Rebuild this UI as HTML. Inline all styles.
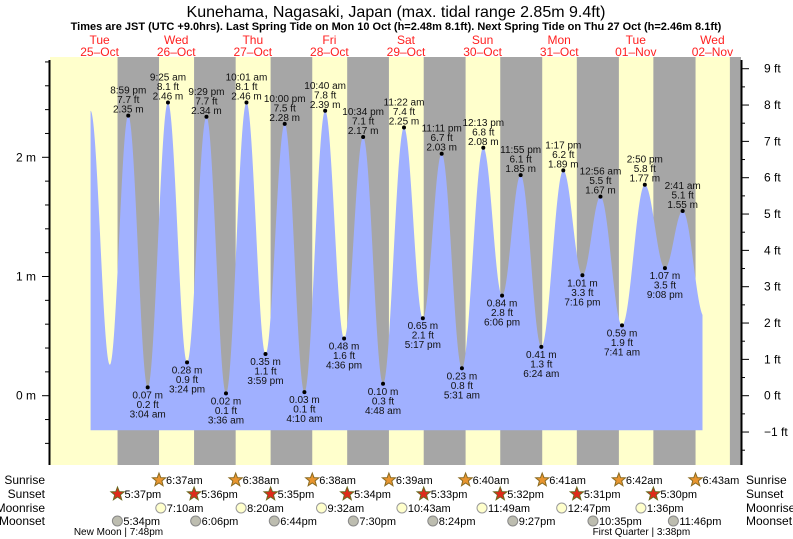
<!DOCTYPE html>
<html><head><meta charset="utf-8">
<style>
body{margin:0;background:#fff;}
svg{display:block;font-family:"Liberation Sans",sans-serif;}
</style></head>
<body>
<svg id="chart" width="793" height="539" viewBox="0 0 793 539" xmlns="http://www.w3.org/2000/svg">
<text x="396" y="17" text-anchor="middle" font-size="16">Kunehama, Nagasaki, Japan (max. tidal range 2.85m 9.4ft)</text>
<text x="396" y="30" text-anchor="middle" font-size="11" font-weight="bold">Times are JST (UTC +9.0hrs). Last Spring Tide on Mon 10 Oct (h=2.48m 8.1ft). Next Spring Tide on Thu 27 Oct (h=2.46m 8.1ft)</text>
<g id="bands"></g>
<g id="tide"></g>
<g id="axes"></g>
<g id="labels"></g>
<g id="days"></g>
<g id="astro"></g>
</svg>
<script>
// ---- data ----
const dayNames = ["Tue","Wed","Thu","Fri","Sat","Sun","Mon","Tue","Wed"];
const dayDates = ["25–Oct","26–Oct","27–Oct","28–Oct","29–Oct","30–Oct","31–Oct","01–Nov","02–Nov"];
// extremes: hours from 25-Oct 00:00
const extHours = [9.17,15.2,20.98,27.07,33.42,39.4,45.48,51.6,58.02,63.98,70,76.17,82.67,88.6,94.57,100.8,107.37,113.28,119.18,125.52,132.22,138.1,143.92,150.4,157.28,163.27,168.93,175.68,182.83,189.13,194.68,201.5];
const extMeters = [2.39,0.26,2.35,0.07,2.46,0.28,2.34,0.02,2.46,0.35,2.28,0.03,2.39,0.48,2.17,0.10,2.25,0.65,2.03,0.23,2.08,0.84,1.85,0.41,1.89,1.01,1.67,0.59,1.77,1.07,1.55,0.66];
const extTimeLabels = ["","","8:59 pm","3:04 am","9:25 am","3:24 pm","9:29 pm","3:36 am","10:01 am","3:59 pm","10:00 pm","4:10 am","10:40 am","4:36 pm","10:34 pm","4:48 am","11:22 am","5:17 pm","11:11 pm","5:31 am","12:13 pm","6:06 pm","11:55 pm","6:24 am","1:17 pm","7:16 pm","12:56 am","7:41 am","2:50 pm","9:08 pm","2:41 am",""];
const extFeet = ["","","7.7","0.2","8.1","0.9","7.7","0.1","8.1","1.1","7.5","0.1","7.8","1.6","7.1","0.3","7.4","2.1","6.7","0.8","6.8","2.8","6.1","1.3","6.2","3.3","5.5","1.9","5.8","3.5","5.1",""];
const tideStart = 9.17, tideEnd = 200.9;
// sun (hours from 25-Oct 00:00)
const sunriseHours = [30.62,54.63,78.63,102.65,126.67,150.68,174.7,198.72]; // 26-Oct..02-Nov
const sunriseLabels = ["6:37am","6:38am","6:38am","6:39am","6:40am","6:41am","6:42am","6:43am"];
const sunsetHours = [17.62,41.6,65.58,89.57,113.55,137.53,161.52,185.5,209.48];
const sunsetLabels = ["5:37pm","5:36pm","5:35pm","5:34pm","5:33pm","5:32pm","5:31pm","5:30pm",""];
const moonriseHours = [31.17,56.33,81.53,106.72,131.82,156.78,181.6];
const moonriseLabels = ["7:10am","8:20am","9:32am","10:43am","11:49am","12:47pm","1:36pm"];
const moonsetHours = [17.57,42.1,66.73,91.5,116.4,141.45,166.58,191.77];
const moonsetLabels = ["5:34pm","6:06pm","6:44pm","7:30pm","8:24pm","9:27pm","10:35pm","11:46pm"];
const phaseHours = [19.8,183.63];
const phaseLabels = ["New Moon | 7:48pm","First Quarter | 3:38pm"];
const mTicks = [0,1,2];
const ftTicks = [-1,0,1,2,3,4,5,6,7,8,9];

// ---- scales ----
const NS="http://www.w3.org/2000/svg";
const X0=61.3, PPH=76.6/24, PLOT_L=50, PLOT_R=741, PLOT_T=57, PLOT_B=465;
const Y0=395.7, PPM=119.2;
const xs = h => X0 + h*PPH;
const ys = m => Y0 - m*PPM;
function mk(tag, attrs, parent, txt){const e=document.createElementNS(NS,tag);for(const k in attrs)e.setAttribute(k,attrs[k]);if(txt!==undefined)e.textContent=txt;parent.appendChild(e);return e;}
const G = id => document.getElementById(id);

// bands
const bands=G('bands');
let bg=mk('rect',{x:PLOT_L,y:PLOT_T,width:PLOT_R-PLOT_L,height:PLOT_B-PLOT_T,fill:'#ffffcc'},bands);


for(let i=0;i<sunsetHours.length;i++){
  const a=xs(sunsetHours[i]);
  const b=i<sunriseHours.length?xs(sunriseHours[i]):PLOT_R;
  const r=mk('rect',{x:a,y:PLOT_T,width:Math.min(b,PLOT_R)-a,height:PLOT_B-PLOT_T,fill:'#a6a6a6'},bands);
  
  
}

// tide curve
function tideAt(h){
  for(let i=0;i<extHours.length-1;i++){
    if(h>=extHours[i]&&h<=extHours[i+1]){
      const f=(h-extHours[i])/(extHours[i+1]-extHours[i]);
      return extMeters[i]+(extMeters[i+1]-extMeters[i])*(1-Math.cos(Math.PI*f))/2;
    }
  }
  return extMeters[extMeters.length-1];
}
const base=ys(-0.29);
let d=`M${xs(tideStart).toFixed(1)},${base} `;
for(let h=tideStart;h<=tideEnd;h+=0.1){d+=`L${xs(h).toFixed(2)},${ys(tideAt(h)).toFixed(2)} `;}
d+=`L${xs(tideEnd).toFixed(1)},${ys(tideAt(tideEnd)).toFixed(1)} L${xs(tideEnd).toFixed(1)},${base} Z`;
const tp=mk('path',{d:d,fill:'#a0b0ff'},G('tide'));



// axes
const ax=G('axes');
let la=mk('line',{x1:49.5,y1:60,x2:49.5,y2:PLOT_B,stroke:'#000','stroke-width':2},ax);


let ra=mk('line',{x1:741.5,y1:60,x2:741.5,y2:PLOT_B,stroke:'#000','stroke-width':2},ax);


for(let v=-0.4;v<=2.81;v+=0.2){
  const y=ys(v);const major=Math.abs(v-Math.round(v))<0.01;
  mk('line',{x1:major?42:45,y1:y,x2:49,y2:y,stroke:'#000','stroke-width':1},ax);
}
mTicks.forEach(m=>{const t=mk('text',{x:36,y:ys(m)+4,'text-anchor':'end','font-size':12},ax,m+' m');
  
  });
for(let f=-1.5;f<=9.6;f+=0.5){
  const y=ys(f*0.3048);const major=Math.abs(f-Math.round(f))<0.01;
  if(y<PLOT_T||y>PLOT_B)continue;
  mk('line',{x1:742,y1:y,x2:major?749:745,y2:y,stroke:'#000','stroke-width':1},ax);
}
ftTicks.forEach(f=>{const t=mk('text',{x:764,y:ys(f*0.3048)+4,'font-size':12},ax,(f<0?'−'+(-f):f)+' ft');
  
  });

// extreme labels
const lb=G('labels');
for(let i=0;i<extHours.length;i++){
  if(!extTimeLabels[i])continue;
  const x=xs(extHours[i]),y=ys(extMeters[i]);
  const high=(i>0&&extMeters[i]>extMeters[i-1]);
  const g=mk('g',{'font-size':10,'text-anchor':'middle',fill:'#111'},lb);
  
  
  mk('circle',{cx:x,cy:y,r:2,fill:'#000'},g);
  const m=extMeters[i].toFixed(2)+' m', ft=extFeet[i]+' ft';
  if(high){
    mk('text',{x:x,y:y-22},g,extTimeLabels[i]);
    mk('text',{x:x,y:y-12.5},g,ft);
    mk('text',{x:x,y:y-3},g,m);
  } else {
    mk('text',{x:x,y:y+11},g,m);
    mk('text',{x:x,y:y+20.5},g,ft);
    mk('text',{x:x,y:y+30},g,extTimeLabels[i]);
  }
}

// day labels
const dg=G('days');
for(let i=0;i<dayNames.length;i++){
  const x=xs(i*24+12);
  const t1=mk('text',{x:x,y:44,'text-anchor':'middle','font-size':12,fill:'#ff2020'},dg,dayNames[i]);
  
  
  const t2=mk('text',{x:x,y:56,'text-anchor':'middle','font-size':12,fill:'#ff2020'},dg,dayDates[i]);
  
  
}

// astro rows
const as=G('astro');
const rowY=[480,494,508,521];
const rowNames=["Sunrise","Sunset","Moonrise","Moonset"];
rowNames.forEach((n,i)=>{
  const a=mk('text',{x:45,y:rowY[i]+4,'text-anchor':'end','font-size':12},as,n);
  
  
  const b=mk('text',{x:746,y:rowY[i]+4,'font-size':12},as,n);
  
  
});
function star(cx,cy,fill,stroke){
  let p='';for(let k=0;k<10;k++){const r=k%2?3:7;const a=-Math.PI/2+k*Math.PI/5;p+=(cx+r*Math.cos(a)).toFixed(1)+','+(cy+r*Math.sin(a)).toFixed(1)+' ';}
  return mk('polygon',{points:p,fill:fill,stroke:stroke,'stroke-width':1},as);
}
sunriseHours.forEach((h,i)=>{const x=xs(h);const s=star(x,rowY[0],'#e8952f','#8a6a20');
  
  mk('text',{x:x+7,y:rowY[0]+4,'font-size':11},as,sunriseLabels[i]);});
sunsetHours.forEach((h,i)=>{if(!sunsetLabels[i])return;const x=xs(h);const s=star(x,rowY[1],'#e02a1a','#6a6a20');
  
  mk('text',{x:x+7,y:rowY[1]+4,'font-size':11},as,sunsetLabels[i]);});
moonriseHours.forEach((h,i)=>{const x=xs(h);const c=mk('circle',{cx:x,cy:rowY[2],r:5,fill:'#ffffcc',stroke:'#999'},as);
  
  mk('text',{x:x+6,y:rowY[2]+4,'font-size':11},as,moonriseLabels[i]);});
moonsetHours.forEach((h,i)=>{const x=xs(h);const c=mk('circle',{cx:x,cy:rowY[3],r:5,fill:'#bdbdb0',stroke:'#888'},as);
  
  mk('text',{x:x+6,y:rowY[3]+4,'font-size':11},as,moonsetLabels[i]);});
phaseHours.forEach((h,i)=>{const t=mk('text',{x:xs(h)-6,y:535,'text-anchor':'middle','font-size':10},as,phaseLabels[i]);
  });
</script>
</body></html>
